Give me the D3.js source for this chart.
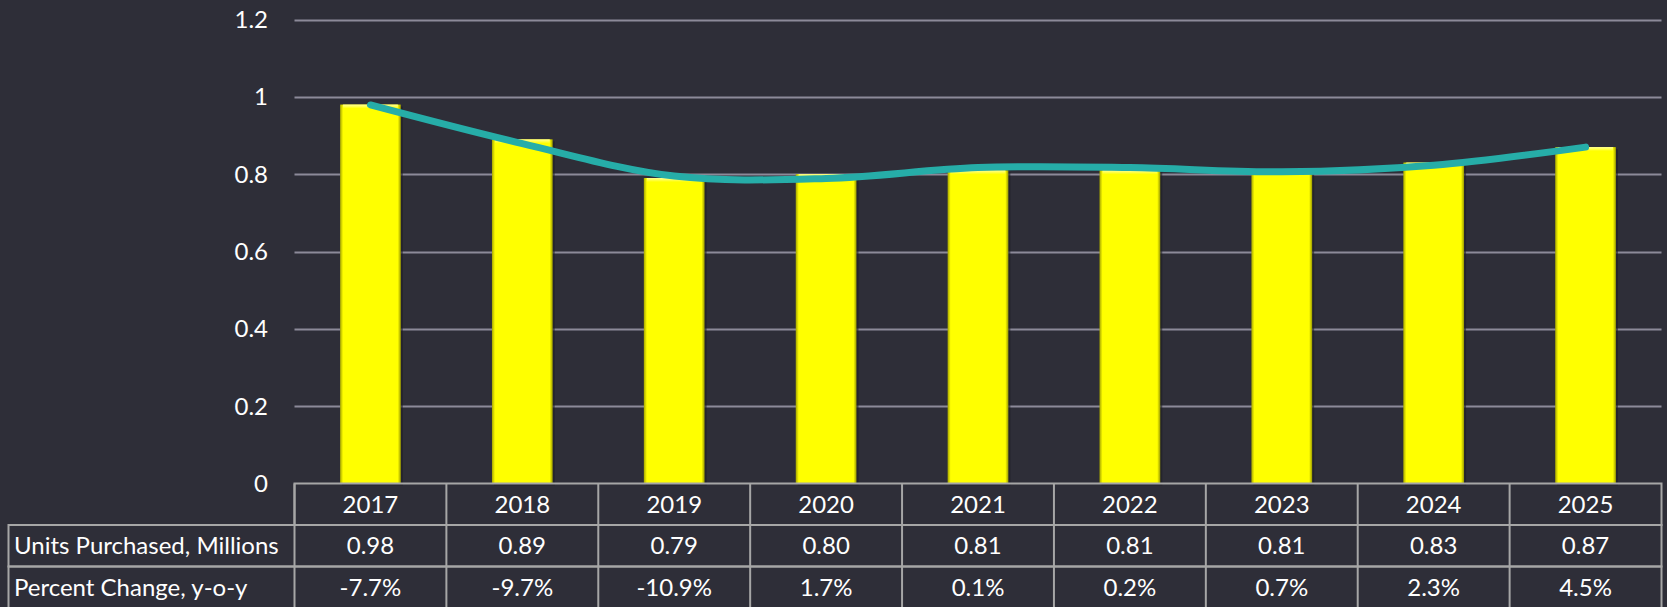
<!DOCTYPE html>
<html>
<head>
<meta charset="utf-8">
<script src="https://cdn.jsdelivr.net/npm/d3@7"></script>
<style>
  html, body { margin: 0; padding: 0; background: #2e2e38; }
  svg { display: block; font-family: Lato, "Open Sans", sans-serif; }
</style>
</head>
<body>
<svg id="chart" width="1667" height="607"></svg>
<script>
// chart data
const years = ["2017", "2018", "2019", "2020", "2021", "2022", "2023", "2024", "2025"];
const units = [0.98, 0.89, 0.79, 0.80, 0.81, 0.81, 0.81, 0.83, 0.87];
// smoothed trend line at each year
const trend = [0.979, 0.879, 0.795, 0.789, 0.817, 0.817, 0.806, 0.823, 0.870];
const pctChange = ["-7.7%", "-9.7%", "-10.9%", "1.7%", "0.1%", "0.2%", "0.7%", "2.3%", "4.5%"];
const rowLabels = ["Units Purchased, Millions", "Percent Change, y-o-y"];
const yTicks = [0, 0.2, 0.4, 0.6, 0.8, 1, 1.2];

const plot = {left: 294.5, right: 1661.5, top: 19.5, bottom: 483.5};
const tableLeft = 8.5;
const rowH = 41.5;
const fontSize = "24px";

const svg = d3.select("#chart");

const x = d3.scaleBand().domain(years).range([plot.left, plot.right]).padding(0);
const y = d3.scaleLinear().domain([0, 1.2]).range([plot.bottom, plot.top]);

// gradients to fake the bevel on the bars
const defs = svg.append("defs");
const gh = defs.append("linearGradient").attr("id", "barH");
gh.append("stop").attr("offset", "0%").attr("stop-color", "#a6a600");
gh.append("stop").attr("offset", "5%").attr("stop-color", "#ffff00");
gh.append("stop").attr("offset", "95%").attr("stop-color", "#ffff00");
gh.append("stop").attr("offset", "100%").attr("stop-color", "#9a9a00");
const gv = defs.append("linearGradient").attr("id", "barTop")
  .attr("x1", 0).attr("y1", 0).attr("x2", 0).attr("y2", 1);
gv.append("stop").attr("offset", "0%").attr("stop-color", "#ffff9a");
gv.append("stop").attr("offset", "100%").attr("stop-color", "#ffff00");

// gridlines
svg.append("g")
  .selectAll("line")
  .data(yTicks.filter(d => d > 0))
  .join("line")
  .attr("x1", plot.left).attr("x2", plot.right)
  .attr("y1", d => Math.round(y(d)) + 0.5).attr("y2", d => Math.round(y(d)) + 0.5)
  .attr("stroke", "#8c8a99")
  .attr("stroke-width", 2);

// y tick labels
svg.append("g")
  .selectAll("text")
  .data(yTicks)
  .join("text")
  .attr("x", 268)
  .attr("y", d => y(d))
  .attr("dy", "0.36em")
  .attr("text-anchor", "end")
  .attr("fill", "#ffffff")
  .style("font-size", fontSize)
  .text(d => String(+d.toFixed(1)));

// bars
const barW = x.bandwidth() * 0.4;
const bars = svg.append("g")
  .selectAll("g")
  .data(years.map((yr, i) => ({yr, v: units[i]})))
  .join("g")
  .attr("transform", d => `translate(${x(d.yr) + x.bandwidth() / 2 - barW / 2},0)`);

bars.append("rect")
  .attr("x", 2).attr("y", d => y(d.v) + 2)
  .attr("width", barW).attr("height", d => plot.bottom - y(d.v))
  .attr("fill", "#1e1e24").attr("opacity", 0.6);
bars.append("rect")
  .attr("y", d => y(d.v))
  .attr("width", barW).attr("height", d => plot.bottom - y(d.v))
  .attr("fill", "url(#barH)");
bars.append("rect")
  .attr("x", 3).attr("y", d => y(d.v))
  .attr("width", barW - 6).attr("height", 4)
  .attr("fill", "url(#barTop)");

// smoothed line over the bars
const line = d3.line()
  .x((d, i) => x(years[i]) + x.bandwidth() / 2)
  .y(d => y(d))
  .curve(d3.curveCardinal.tension(0));

svg.append("path")
  .datum(trend)
  .attr("d", line)
  .attr("fill", "none")
  .attr("stroke", "#26ada8")
  .attr("stroke-width", 7)
  .attr("stroke-linecap", "round");

// data table below the chart
const table = svg.append("g");
const gridColor = "#a6a6a6";

const rows = [years, units.map(d => d.toFixed(2)), pctChange];
rows.forEach((cells, r) => {
  const top = plot.bottom + r * rowH;
  const left = r === 0 ? plot.left : tableLeft;
  table.append("rect")
    .attr("x", left).attr("y", top)
    .attr("width", plot.right - left).attr("height", rowH)
    .attr("fill", "none").attr("stroke", gridColor).attr("stroke-width", 2);
  table.selectAll(null)
    .data(years)
    .join("line")
    .attr("x1", d => x(d)).attr("x2", d => x(d))
    .attr("y1", top).attr("y2", top + rowH)
    .attr("stroke", gridColor).attr("stroke-width", 2);
  table.selectAll(null)
    .data(cells)
    .join("text")
    .attr("x", (d, i) => x(years[i]) + x.bandwidth() / 2)
    .attr("y", top + rowH / 2)
    .attr("dy", "0.36em")
    .attr("text-anchor", "middle")
    .attr("fill", "#ffffff")
    .style("font-size", fontSize)
    .text(d => d);
  if (r > 0) {
    table.append("text")
      .attr("x", 14).attr("y", top + rowH / 2)
      .attr("dy", "0.36em")
      .attr("fill", "#ffffff")
      .style("font-size", fontSize)
      .text(rowLabels[r - 1]);
  }
});
</script>
</body>
</html>
